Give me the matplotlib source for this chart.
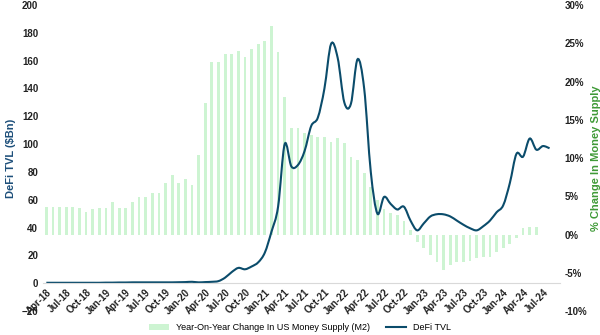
import matplotlib
matplotlib.use('Agg')
import matplotlib.pyplot as plt
from matplotlib.path import Path
from matplotlib.patches import PathPatch
from matplotlib.lines import Line2D

plt.rcParams['font.family'] = ['Liberation Sans Narrow', 'Liberation Sans', 'DejaVu Sans']

# monthly, Apr-18 .. Jun-24 (YoY change in US M2, %)
m2_yoy = [3.6, 3.6, 3.6, 3.6, 3.6, 3.5, 2.9, 3.3, 3.5,
          3.5, 4.2, 3.5, 3.5, 4.2, 4.9, 4.9, 5.4, 5.4, 6.7, 7.8, 6.7,
          7.2, 6.5, 10.4, 17.2, 22.6, 22.5, 23.6, 23.6, 24.0, 23.2, 24.2, 24.9,
          25.3, 27.3, 23.8, 18.0, 13.9, 13.9, 13.3, 13.0, 12.8, 12.8, 12.1, 12.6,
          12.0, 10.1, 9.7, 8.0, 6.2, 4.5, 3.4, 2.8, 2.5, 1.8, 0.6, -1.0,
          -1.8, -2.7, -3.6, -4.7, -4.0, -3.6, -3.6, -3.4, -3.1, -3.0, -2.9, -2.3,
          -1.8, -1.2, -0.4, 0.9, 1.0, 1.0]

# monthly, Apr-18 .. Aug-24 (DeFi TVL, $Bn)
defi_tvl = [0.3, 0.3, 0.3, 0.3, 0.3, 0.3, 0.3, 0.3, 0.3,
            0.4, 0.4, 0.5, 0.5, 0.6, 0.6, 0.6, 0.6, 0.6, 0.6, 0.6, 0.7,
            0.8, 1.0, 0.6, 0.8, 1.0, 1.5, 4, 8, 11, 10, 12, 15,
            22, 37, 55, 100, 84, 85, 95, 113, 119, 140, 172, 162,
            130, 129, 161, 140, 80, 50, 62, 57, 53, 55, 45, 38,
            43, 48, 49.6, 49.5, 48, 45, 42, 39.5, 38, 41, 45, 51,
            56, 72, 93, 91, 104, 96, 98.6, 97]

tick_labels = ['Apr-18', 'Jul-18', 'Oct-18', 'Jan-19', 'Apr-19', 'Jul-19', 'Oct-19',
               'Jan-20', 'Apr-20', 'Jul-20', 'Oct-20', 'Jan-21', 'Apr-21', 'Jul-21',
               'Oct-21', 'Jan-22', 'Apr-22', 'Jul-22', 'Oct-22', 'Jan-23', 'Apr-23',
               'Jul-23', 'Oct-23', 'Jan-24', 'Apr-24', 'Jul-24']

bar_color = '#cdf4d2'
line_color = '#0b4c6b'
n_cat = 78


def smooth_path(ys):
    # Excel-like smoothed line: Catmull-Rom through the points as cubic Beziers
    pts = list(enumerate(ys))
    verts = [pts[0]]
    codes = [Path.MOVETO]
    for i in range(len(pts) - 1):
        p0 = pts[max(i - 1, 0)]
        p1 = pts[i]
        p2 = pts[i + 1]
        p3 = pts[min(i + 2, len(pts) - 1)]
        c1 = (p1[0] + (p2[0] - p0[0]) / 6, p1[1] + (p2[1] - p0[1]) / 6)
        c2 = (p2[0] - (p3[0] - p1[0]) / 6, p2[1] - (p3[1] - p1[1]) / 6)
        verts += [c1, c2, p2]
        codes += [Path.CURVE4] * 3
    return Path(verts, codes)


fig = plt.figure(figsize=(6, 3.35), dpi=100)
ax1 = fig.add_axes([0.0717, 0.0716, 0.8608, 0.9134])
ax2 = ax1.twinx()
ax1.set_zorder(2)
ax1.patch.set_visible(False)

ax2.bar(range(len(m2_yoy)), m2_yoy, width=0.42, color=bar_color, zorder=1)
ax2.set_ylim(-10, 30)
ax2.set_yticks(range(-10, 31, 5))
ax2.set_yticklabels([f'{v}%' for v in range(-10, 31, 5)])
ax2.set_ylabel('% Change In Money Supply', color='#3f9a37', fontsize=8,
               fontweight='bold', labelpad=3)

ax1.add_patch(PathPatch(smooth_path(defi_tvl), fill=False, edgecolor=line_color, lw=1.5))
ax1.set_ylim(-20, 200)
ax1.set_yticks(range(-20, 201, 20))
ax1.set_xlim(-0.5, n_cat - 0.5)
ax1.set_ylabel('DeFi TVL ($Bn)', color='#1d4f7a', fontsize=8,
               fontweight='bold', labelpad=4)

ax1.set_xticks(range(0, 3 * len(tick_labels), 3))
ax1.set_xticklabels(tick_labels)

for a in (ax1, ax2):
    for s in a.spines.values():
        s.set_visible(False)
    a.tick_params(length=0, labelsize=7, labelcolor='#222222')
    for lab in a.get_yticklabels():
        lab.set_fontweight('bold')

ax1.spines['bottom'].set_visible(True)
ax1.spines['bottom'].set_position(('data', 0))
ax1.spines['bottom'].set_color('#d9d9d9')
ax1.spines['bottom'].set_linewidth(0.8)
ax1.tick_params(axis='x', pad=3, labelrotation=45)
for lab in ax1.get_xticklabels():
    lab.set_fontweight('bold')
    lab.set_ha('right')
    lab.set_rotation_mode('anchor')

h1 = ax2.patches[0]
h2 = Line2D([], [], color=line_color, lw=1.5)
fig.legend([h1, h2], ['Year-On-Year Change In US Money Supply (M2)', 'DeFi TVL'],
           loc='lower center', bbox_to_anchor=(0.5, -0.015), ncol=2, frameon=False,
           fontsize=6.5, handlelength=2.2, columnspacing=1.8, handleheight=0.6)

fig.savefig('out.png', dpi=100)
